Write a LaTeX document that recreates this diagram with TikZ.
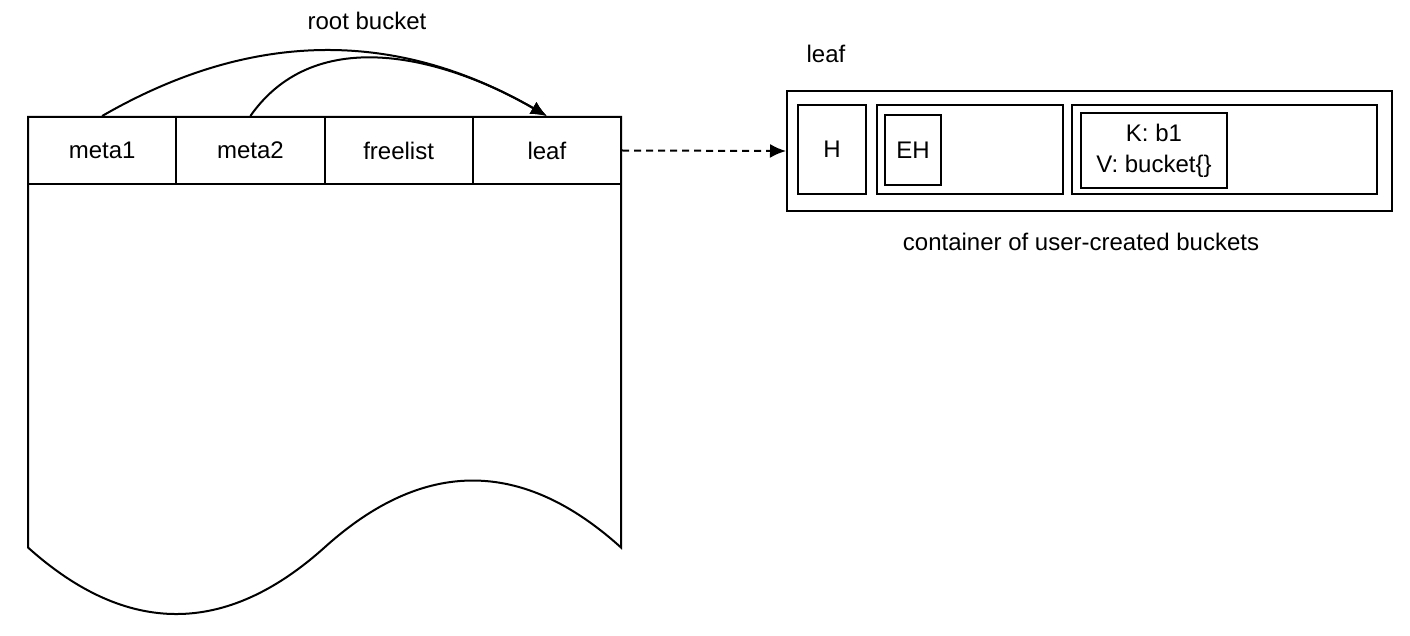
\documentclass[tikz,border=0pt]{standalone}
\usepackage{fontspec}
\setmainfont{Liberation Sans}
\usetikzlibrary{arrows.meta}

\tikzset{
  cell/.style={draw, minimum width=74.125pt, minimum height=33.5pt, inner sep=0pt},
  box/.style={draw, inner sep=0pt},
  lbl/.style={inner sep=0pt},
}

\begin{document}
\begin{tikzpicture}[x=0.5pt, y=-0.5pt, line width=1pt, >={Latex[length=8pt,width=7pt]},
    font=\fontsize{12}{15.5}\selectfont]
    \useasboundingbox (0,0) rectangle (1410,636);

    % the page, with its wavy bottom
    \draw (28,117) -- (621,117) -- (621,547.5)
      .. controls (522.2,458.2) and (423.3,458.2) .. (324.5,547.5)
      .. controls (225.7,636.2) and (126.8,636.2) .. (28,547.5) -- cycle;

    \node[cell] (meta1) at (102.125,150.5) {meta1};
    \node[cell] (meta2) at (250.375,150.5) {meta2};
    \node[cell] (freelist) at (398.625,150.5) {freelist};
    \node[cell] (leaf) at (546.875,150.5) {leaf};

    \node[lbl] (rootlbl) at (367,21) {root bucket};
    \draw[->] (meta1.north) to[out=30,in=150] (leaf.north);
    \draw[->] (meta2.north) to[out=55,in=150] (leaf.north);

    % leaf page
    \node[lbl] (leaflbl) at (826,54) {leaf};
    \node[box, minimum width=302.5pt, minimum height=60pt] (container) at (1089.5,151) {};
    \node[box, minimum width=34pt, minimum height=44.5pt] (hdr) at (832,149.5) {H};
    \node[box, minimum width=93pt, minimum height=44.5pt] (ehpage) at (970,149.5) {};
    \node[box, minimum width=28pt, minimum height=35pt] (eh) at (913,150) {EH};
    \node[box, minimum width=152.5pt, minimum height=44.5pt] (kvpage) at (1224.5,149.5) {};
    \node[box, minimum width=73pt, minimum height=37.5pt, align=center] (kv) at (1154,150.5) {K: b1\\V: bucket\{\}};
    \node[lbl] (caption) at (1081,242) {container of user-created buckets};

    \draw[->, dash pattern=on 3.5pt off 2.5pt] (leaf.east) -- (container.west);
\end{tikzpicture}
\end{document}
